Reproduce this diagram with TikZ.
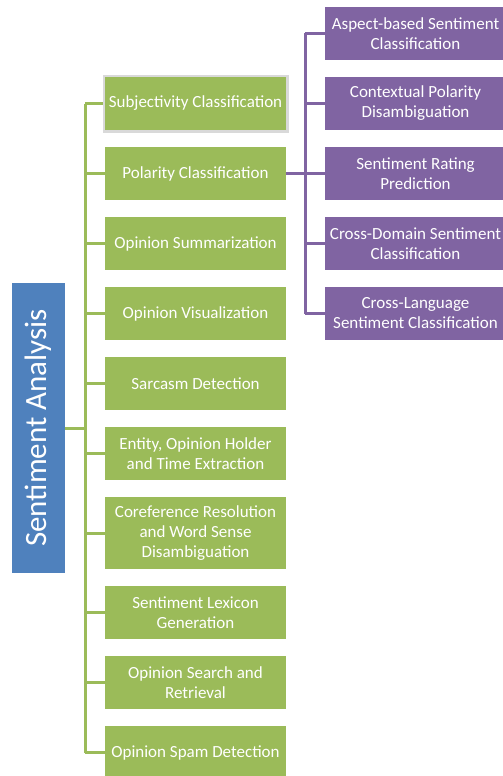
\documentclass[tikz,border=0pt]{standalone}
\usepackage{fontspec}
\setmainfont{Carlito}
\definecolor{sablue}{HTML}{4F81BD}
\definecolor{sagreen}{HTML}{9BBB59}
\definecolor{sapurple}{HTML}{8064A2}
\definecolor{selgray}{HTML}{D9D9D9}
\tikzset{
  gbox/.style={fill=sagreen, text=white, minimum width=181pt, minimum height=53pt, inner sep=0pt, align=center, font=\fontsize{17}{20}\selectfont},
  pbox/.style={fill=sapurple, text=white, minimum width=181pt, minimum height=53pt, inner sep=0pt, align=center, font=\fontsize{17}{20}\selectfont},
  gline/.style={draw=sagreen, line width=3pt},
  pline/.style={draw=sapurple, line width=3pt},
}
\begin{document}
\begin{tikzpicture}[x=1pt,y=-1pt]
\useasboundingbox (0,0) rectangle (503,776);
\clip (0,0) rectangle (503,776);
% root
\node[fill=sablue, text=white, rotate=90, minimum width=290pt, minimum height=53pt, inner sep=0pt, font=\fontsize{31}{36}\selectfont] (root) at (38.5,428) {Sentiment Analysis};
% green boxes
\node[gbox, draw=selgray, line width=2.5pt, minimum width=183.5pt, minimum height=55.5pt] (g1) at (195.5,103.5) {Subjectivity Classification};
\node[gbox] (g2) at (195.5,173.5) {Polarity Classification};
\node[gbox] (g3) at (195.5,243.5) {Opinion Summarization};
\node[gbox] (g4) at (195.5,313.5) {Opinion Visualization};
\node[gbox] (g5) at (195.5,383.5) {Sarcasm Detection};
\node[gbox] (g6) at (195.5,453.5) {Entity, Opinion Holder\\and Time Extraction};
\node[gbox, minimum height=72pt] (g7) at (195.5,533) {Coreference Resolution\\and Word Sense\\Disambiguation};
\node[gbox] (g8) at (195.5,612.5) {Sentiment Lexicon\\Generation};
\node[gbox] (g9) at (195.5,682.5) {Opinion Search and\\Retrieval};
\node[gbox] (g10) at (195.5,752.5) {Opinion Spam Detection};
% purple boxes
\node[pbox] (p1) at (415.5,33.5) {Aspect-based Sentiment\\Classification};
\node[pbox] (p2) at (415.5,103.5) {Contextual Polarity\\Disambiguation};
\node[pbox] (p3) at (415.5,173.5) {Sentiment Rating\\Prediction};
\node[pbox] (p4) at (415.5,243.5) {Cross-Domain Sentiment\\Classification};
\node[pbox] (p5) at (415.5,313.5) {Cross-Language\\Sentiment Classification};
% connector rails
\coordinate (gx) at (85,0);
\coordinate (px) at (305,0);
\draw[gline] (root.south) -- (root.south -| gx);
\draw[gline] (g1.west -| gx) -- (g10.west -| gx);
\foreach \n in {g1,g2,g3,g4,g5,g6,g7,g8,g9,g10} {
  \draw[gline] (\n.west -| gx) -- (\n.west);
}
\draw[pline] (g2.east) -- (g2.east -| px);
\draw[pline] (p1.west -| px) -- (p5.west -| px);
\foreach \n in {p1,p2,p3,p4,p5} {
  \draw[pline] (\n.west -| px) -- (\n.west);
}
\end{tikzpicture}
\end{document}
